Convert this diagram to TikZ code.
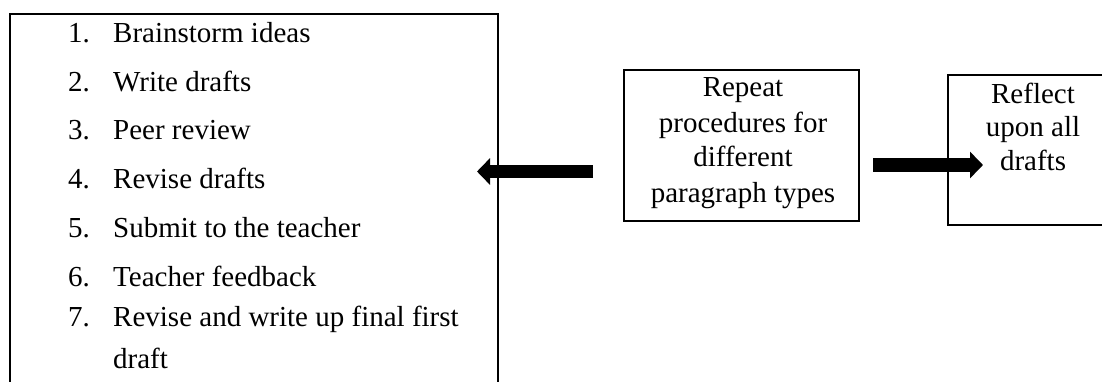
\documentclass[tikz,border=0pt]{standalone}
\usepackage{fontspec}
\setmainfont{Liberation Serif}
\usetikzlibrary{arrows.meta}
\begin{document}
\begin{tikzpicture}[x=1pt,y=-1pt,
  box/.style={draw=black, line width=1.6pt, inner sep=0pt, anchor=north west},
  txt/.style={inner sep=0pt, font=\fontsize{29}{35}\selectfont},
  item/.style={txt, anchor=base west},
  ctext/.style={txt, anchor=base},
  fat/.style={line width=13.5pt, -{Triangle[length=13pt,width=26pt]}}]
\clip (0,0) rectangle (1102,382);
\fill[white] (0,0) rectangle (1102,382);
% left list box
\node[box, minimum width=488pt, minimum height=420pt] (list) at (9,13) {};
\node[item] (n1) at (68,43) {1.};
\node[item] (t1) at (113,43) {Brainstorm ideas};
\node[item] (n2) at (68,91.5) {2.};
\node[item] (t2) at (113,91.5) {Write drafts};
\node[item] (n3) at (68,140) {3.};
\node[item] (t3) at (113,140) {Peer review};
\node[item] (n4) at (68,188.5) {4.};
\node[item] (t4) at (113,188.5) {Revise drafts};
\node[item] (n5) at (68,237) {5.};
\node[item] (t5) at (113,237) {Submit to the teacher};
\node[item] (n6) at (68,286) {6.};
\node[item] (t6) at (113,286) {Teacher feedback};
\node[item] (n7) at (68,326) {7.};
\node[item] (t7) at (113,326) {Revise and write up final first};
\node[item] (t7b) at (113,368) {draft};
% middle box
\node[box, minimum width=235pt, minimum height=151pt] (mid) at (623,69) {};
\node[ctext] (m1) at (743,97) {Repeat};
\node[ctext] (m2) at (743,133) {procedures for};
\node[ctext] (m3) at (743,166.5) {different};
\node[ctext] (m4) at (743,202) {paragraph types};
% right box
\node[box, minimum width=200pt, minimum height=150pt] (refl) at (947,74) {};
\node[ctext] (r1) at (1033,104) {Reflect};
\node[ctext] (r2) at (1033,137) {upon all};
\node[ctext] (r3) at (1033,171) {drafts};
% arrows
\coordinate (ltail) at (593,171.5);
\coordinate (lhead) at (477,171.5);
\draw[fat] (ltail) -- (lhead);
\coordinate (rtail) at (873,165);
\coordinate (rhead) at (983,165);
\draw[fat] (rtail) -- (rhead);
\end{tikzpicture}
\end{document}
